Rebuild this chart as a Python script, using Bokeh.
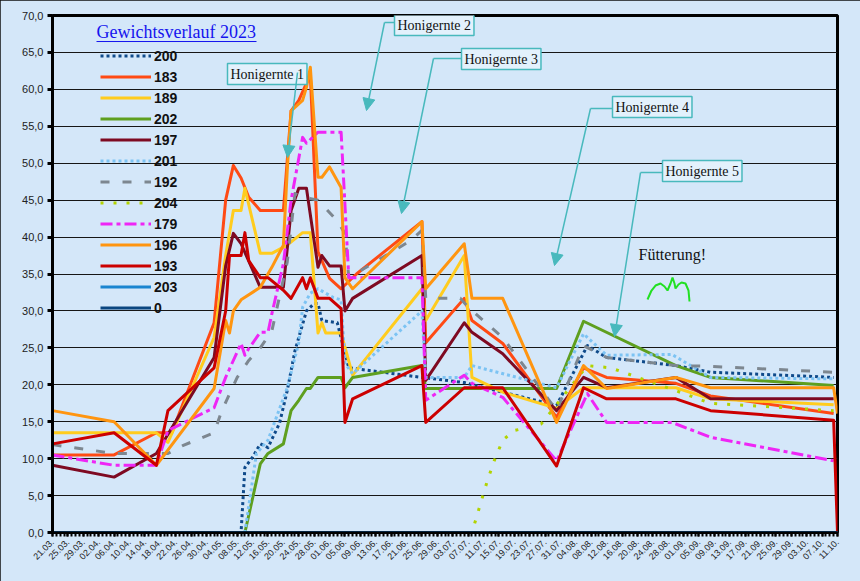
from datetime import date
from bokeh.plotting import figure
from bokeh.models import (Range1d, FixedTicker, Label, Arrow, NormalHead, Legend,
                          LegendItem, ColumnDataSource)
from bokeh.embed import file_html
from bokeh.resources import INLINE

YEAR = 2023
START = date(2023, 3, 21)

TICK_LABELS = ["21.03.", "25.03.", "29.03.", "02.04.", "06.04.", "10.04.", "14.04.", "18.04.",
               "22.04.", "26.04.", "30.04.", "04.05.", "08.05.", "12.05.", "16.05.", "20.05.",
               "24.05.", "28.05.", "01.06.", "05.06.", "09.06.", "13.06.", "17.06.", "21.06.",
               "25.06.", "29.06.", "03.07.", "07.07.", "11.07.", "15.07.", "19.07.", "23.07.",
               "27.07.", "31.07.", "04.08.", "08.08.", "12.08.", "16.08.", "20.08.", "24.08.",
               "28.08.", "01.09.", "05.09.", "09.09.", "13.09.", "17.09.", "21.09.", "25.09.",
               "29.09.", "03.10.", "07.10.", "11.10."]
Y_TICKS = [0, 5, 10, 15, 20, 25, 30, 35, 40, 45, 50, 55, 60, 65, 70]

# ---- series (date, weight) ----
D200 = ["21.03", "09.05", "10.05", "12.05", "14.05", "16.05", "19.05", "21.05", "23.05", "26.05",
        "28.05", "29.05", "30.05", "03.06", "06.06", "25.06", "06.07", "16.07", "30.07", "07.08",
        "12.08", "30.08", "08.09", "10.10"]
W200 = [0, 0, 8.8, 10.2, 12.0, 11.5, 14.8, 19.2, 24.6, 30.0,
        31.0, 31.0, 28.7, 28.4, 22.3, 21.0, 20.3, 19.0, 17.2, 25.3,
        23.7, 22.6, 21.7, 21.0]

D183 = ["21.03", "06.04", "17.04", "21.04", "02.05", "05.05", "07.05", "09.05", "11.05", "14.05",
        "20.05", "22.05", "24.05", "27.05", "29.05", "01.06", "04.06", "08.06", "25.06", "26.06",
        "06.07", "08.07", "16.07", "30.07", "06.08", "12.08", "30.08", "08.09", "10.10"]
W183 = [10.5, 10.5, 13.5, 13.5, 28.4, 45.0, 49.7, 48.0, 45.4, 43.6,
        43.6, 57.1, 58.5, 62.0, 38.0, 34.4, 33.0, 35.0, 42.1, 25.7,
        31.7, 28.7, 25.6, 15.6, 22.3, 21.0, 20.2, 18.5, 16.1]

D189 = ["21.03", "17.04", "20.04", "02.05", "05.05", "07.05", "09.05", "10.05", "14.05", "17.05",
        "21.05", "25.05", "27.05", "29.05", "30.05", "31.05", "04.06", "07.06", "25.06", "26.06",
        "06.07", "08.07", "16.07", "30.07", "06.08", "30.08", "08.09", "10.10"]
W189 = [13.5, 13.5, 12.2, 26.4, 37.5, 43.6, 43.6, 46.6, 37.8, 37.8,
        38.9, 40.6, 40.6, 27.0, 28.4, 27.0, 27.0, 21.3, 33.0, 28.7,
        37.5, 21.0, 19.0, 16.8, 19.6, 19.6, 18.1, 17.3]

D202 = ["21.03", "10.05", "14.05", "16.05", "20.05", "22.05", "24.05", "26.05", "27.05", "29.05",
        "04.06", "05.06", "07.06", "25.06", "26.06", "30.07", "06.08", "30.08", "08.09", "10.10"]
W202 = [0, 0, 9.3, 10.7, 12.0, 16.5, 17.9, 19.5, 19.5, 21.0,
        21.0, 19.6, 21.0, 22.6, 19.5, 19.5, 28.6, 22.6, 21.0, 19.9]

D197 = ["21.03", "06.04", "17.04", "02.05", "05.05", "07.05", "09.05", "14.05", "20.05", "22.05",
        "24.05", "26.05", "29.05", "30.05", "01.06", "04.06", "05.06", "07.06", "25.06", "26.06",
        "06.07", "08.07", "16.07", "30.07", "06.08", "12.08", "30.08", "08.09", "10.10"]
W197 = [9.1, 7.5, 10.7, 23.7, 36.1, 40.5, 39.1, 33.2, 33.2, 43.6,
        46.6, 46.6, 35.9, 37.5, 36.1, 36.1, 30.0, 31.7, 37.5, 20.6,
        28.4, 27.1, 24.2, 16.5, 21.0, 19.6, 21.0, 18.1, 18.1]

D201 = ["21.03", "10.05", "13.05", "16.05", "21.05", "24.05", "25.05", "27.05", "29.05", "02.06",
        "04.06", "05.06", "07.06", "25.06", "26.06", "06.07", "08.07", "30.07", "06.08", "12.08",
        "29.08", "08.09", "10.10"]
W201 = [0, 0, 10.7, 12.5, 19.6, 25.7, 30.5, 32.4, 33.0, 31.8,
        31.5, 22.9, 21.5, 30.0, 21.0, 21.0, 22.6, 19.6, 26.9, 24.0,
        24.1, 21.0, 20.8]

D192 = ["21.03", "06.04", "20.04", "24.04", "02.05", "04.05", "08.05", "11.05", "14.05", "17.05",
        "21.05", "23.05", "25.05", "29.05", "03.06", "05.06", "06.06", "22.06", "25.06", "26.06",
        "05.07", "07.07", "16.07", "23.07", "30.07", "06.08", "12.08", "30.08", "08.09", "10.10"]
W192 = [11.9, 10.7, 10.7, 11.8, 13.5, 16.5, 21.0, 23.3, 25.0, 27.3,
        36.6, 45.9, 45.4, 45.0, 42.2, 40.5, 34.5, 39.5, 40.9, 31.7,
        31.7, 30.5, 26.4, 21.5, 16.5, 25.3, 23.7, 22.6, 22.5, 21.7]

D204 = ["21.03", "08.07", "10.07", "12.07", "14.07", "16.07", "19.07", "23.07", "26.07", "07.08",
        "13.08", "30.08", "08.09", "10.10"]
W204 = [0, 0, 3.5, 7.0, 10.0, 12.5, 13.8, 14.3, 14.7, 22.6,
        22.3, 19.2, 17.5, 16.5]

D179 = ["21.03", "06.04", "17.04", "20.04", "02.05", "05.05", "09.05", "10.05", "11.05", "14.05",
        "16.05", "17.05", "20.05", "22.05", "25.05", "26.05", "29.05", "04.06", "06.06", "25.06",
        "26.06", "06.07", "08.07", "16.07", "30.07", "07.08", "12.08", "29.08", "08.09", "10.10"]
W179 = [10.5, 9.1, 9.1, 13.8, 16.9, 21.0, 25.6, 24.0, 24.9, 27.1,
        27.1, 29.6, 36.4, 45.0, 53.5, 52.7, 54.2, 54.2, 34.5, 34.5,
        17.9, 21.3, 20.2, 18.3, 9.7, 18.8, 14.9, 14.9, 12.9, 9.7]

D196 = ["21.03", "06.04", "17.04", "02.05", "05.05", "06.05", "07.05", "09.05", "14.05", "17.05",
        "20.05", "21.05", "22.05", "25.05", "26.05", "27.05", "29.05", "30.05", "01.06", "04.06",
        "05.06", "07.06", "25.06", "26.06", "06.07", "08.07", "16.07", "30.07", "06.08", "12.08",
        "30.08", "08.09", "10.10", "11.10"]
W196 = [16.5, 15.0, 9.1, 19.5, 28.7, 27.0, 30.0, 31.5, 33.2, 35.9,
        38.9, 49.0, 57.1, 58.5, 60.3, 63.0, 48.1, 48.1, 49.5, 46.7,
        34.5, 33.0, 42.1, 33.0, 39.1, 31.7, 31.7, 14.9, 22.6, 19.5,
        21.0, 19.6, 19.6, 16.1]

D193 = ["21.03", "06.04", "17.04", "20.04", "02.05", "05.05", "06.05", "09.05", "10.05", "11.05",
        "14.05", "16.05", "20.05", "22.05", "25.05", "26.05", "27.05", "29.05", "01.06", "04.06",
        "05.06", "07.06", "25.06", "26.06", "06.07", "16.07", "30.07", "06.08", "12.08", "30.08",
        "08.09", "10.10", "11.10"]
W193 = [12.0, 13.5, 9.1, 16.5, 22.3, 30.0, 37.5, 37.5, 40.6, 36.8,
        34.5, 34.5, 32.8, 31.7, 34.5, 33.0, 34.5, 31.7, 31.7, 30.3,
        14.9, 18.1, 22.6, 14.9, 19.6, 19.6, 9.0, 19.6, 18.1, 18.1,
        16.5, 15.2, 0]

D203 = ["21.03", "11.10"]
W203 = [0, 0]
D0 = ["21.03", "11.10"]
W0 = [0, 0]

SERIES = [
    ("200", D200, W200, "#0f4a8a", 3, "3 3"),
    ("183", D183, W183, "#ff4a14", 3, "solid"),
    ("189", D189, W189, "#ffcc1e", 3, "solid"),
    ("202", D202, W202, "#5e9f1f", 3, "solid"),
    ("197", D197, W197, "#7e0a22", 3, "solid"),
    ("201", D201, W201, "#7cc3f3", 3, "3 3"),
    ("192", D192, W192, "#7d8790", 3, "9 13"),
    ("204", D204, W204, "#b2d300", 3, "3 10"),
    ("179", D179, W179, "#ee26f5", 3, "12 4 4 4"),
    ("196", D196, W196, "#ff9510", 3, "solid"),
    ("193", D193, W193, "#cc0000", 3, "solid"),
    ("203", D203, W203, "#1a85d0", 3, "solid"),
    ("0", D0, W0, "#0a4680", 3, "solid"),
]


def to_day(s):
    parts = [t for t in s.split(".") if t]
    return (date(YEAR, int(parts[1]), int(parts[0])) - START).days


def px(x, y):
    """screen pixel of the 860x581 canvas -> data coords (for annotations only)"""
    return (x - 52) / 3.848, (532 - y) / 7.386


BG = "#d4e7f9"
p = figure(width=860, height=581, output_backend="svg", toolbar_location=None,
           x_range=Range1d(0, 204), y_range=Range1d(0, 70),
           min_border_left=52, min_border_right=23, min_border_top=15, min_border_bottom=49,
           background_fill_color=BG, border_fill_color=BG)
p.styles = {"outline": "2px solid #111", "outline-offset": "-2px"}
p.outline_line_color = "black"
p.outline_line_width = 3

# x axis
tick_pos = [to_day(t) for t in TICK_LABELS]
p.xaxis.ticker = FixedTicker(ticks=tick_pos, minor_ticks=list(range(0, 205)))
p.xaxis.major_label_overrides = {d: t for d, t in zip(tick_pos, TICK_LABELS)}
p.xaxis.major_label_orientation = 0.785398
p.xaxis.major_label_text_font = "Liberation Sans"
p.xaxis.major_label_text_font_size = "9px"
p.xaxis.major_label_text_color = "#222"
p.xaxis.axis_line_color = "black"
p.xaxis.axis_line_width = 2
p.xaxis.major_tick_in = 0
p.xaxis.major_tick_out = 4
p.xaxis.minor_tick_in = 0
p.xaxis.minor_tick_out = 4
p.xaxis.major_tick_line_width = 2
p.xaxis.minor_tick_line_width = 2
p.xaxis.major_tick_line_color = "black"
p.xaxis.minor_tick_line_color = "black"
p.xaxis.major_label_standoff = 4
p.xgrid.visible = False

# y axis
p.yaxis.ticker = FixedTicker(ticks=Y_TICKS, minor_ticks=[])
p.yaxis.major_label_overrides = {v: f"{v:.1f}".replace(".", ",") for v in Y_TICKS}
p.yaxis.major_label_text_font = "Liberation Sans"
p.yaxis.major_label_text_font_size = "11px"
p.yaxis.major_label_text_color = "#222"
p.yaxis.axis_line_color = "black"
p.yaxis.axis_line_width = 3
p.yaxis.major_tick_in = 0
p.yaxis.major_tick_out = 5
p.yaxis.major_tick_line_width = 3
p.yaxis.major_tick_line_color = "black"
p.yaxis.minor_tick_line_color = None
p.yaxis.major_label_standoff = 4
p.ygrid.ticker = FixedTicker(ticks=Y_TICKS)
p.ygrid.grid_line_color = "#161616"
p.ygrid.grid_line_width = 1

items = []
for name, ds, ws, col, lw, dash in SERIES:
    src = ColumnDataSource(dict(x=[to_day(d) for d in ds], y=ws))
    r = p.line("x", "y", source=src, line_color=col, line_width=lw, line_dash=dash,
               line_join="round")
    items.append(LegendItem(label=name, renderers=[r]))

legend = Legend(items=items, location=(48, 214), background_fill_alpha=0,
                border_line_alpha=0, glyph_width=51, glyph_height=21, label_height=21,
                spacing=0, padding=0, margin=0, label_standoff=3,
                label_text_font="Liberation Sans", label_text_font_size="14px",
                label_text_font_style="bold", label_text_color="#111")
p.add_layout(legend)

# title
tx, ty = px(96, 31)
p.add_layout(Label(x=tx, y=ty, text="Gewichtsverlauf 2023", text_font="Liberation Serif",
                   text_font_size="18px", text_color="#1414ee", text_baseline="middle",
                   text_align="left"))
ux0, uy = px(96, 41)
ux1, _ = px(256, 41)
p.add_layout(Arrow(x_start=ux0, y_start=uy, x_end=ux1, y_end=uy, end=None,
                   line_color="#1414ee", line_width=1))

TEAL = "#48b9bd"
BOXES = [("Honigernte 1", 227, 63), ("Honigernte 2", 394, 14), ("Honigernte 3", 461, 48),
         ("Honigernte 4", 612, 96), ("Honigernte 5", 662, 160)]
for text, bx, by in BOXES:
    lx, ly = px(bx, by)
    p.add_layout(Label(x=lx, y=ly, text=text, text_font="Liberation Serif",
                       text_font_size="14px", text_color="#111", text_baseline="top",
                       text_align="left", background_fill_color="#e3f1fc",
                       border_line_color=TEAL, border_line_width=1.5, padding=3))

ARROWS = [((297, 72), (287, 157), None),
          ((384, 22), (366, 110), (394, 22)),
          ((433, 58), (401, 213), (461, 58)),
          ((590, 108), (554, 265), (612, 108)),
          ((640, 172), (614, 336), (662, 172))]
for (sx, sy), (ex, ey), conn in ARROWS:
    x0, y0 = px(sx, sy)
    x1, y1 = px(ex, ey)
    p.add_layout(Arrow(x_start=x0, y_start=y0, x_end=x1, y_end=y1,
                       end=NormalHead(size=12, fill_color=TEAL, line_color=TEAL),
                       line_color=TEAL, line_width=1.5))
    if conn is not None:
        cx, cy = px(*conn)
        p.add_layout(Arrow(x_start=x0, y_start=y0, x_end=cx, y_end=cy, end=None,
                           line_color=TEAL, line_width=1.5))

fx, fy = px(638, 254)
p.add_layout(Label(x=fx, y=fy, text="Fütterung!", text_font="Liberation Serif",
                   text_font_size="16px", text_color="#111", text_baseline="middle",
                   text_align="left"))

SQUIGGLE = [(647, 299), (651, 290), (655, 285), (660, 283), (664, 286), (667, 290), (670, 283),
            (672, 277), (674, 283), (675, 288), (678, 284), (681, 282), (685, 283), (688, 290),
            (689, 301)]
sq = [px(a, b) for a, b in SQUIGGLE]
p.line([s[0] for s in sq], [s[1] for s in sq], line_color="#22e022", line_width=2)

open("out.html", "w").write(file_html(p, INLINE))
